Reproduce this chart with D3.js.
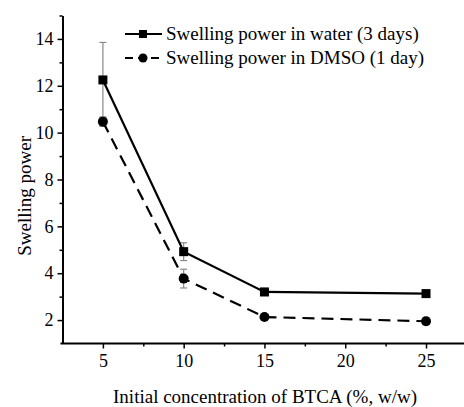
<!DOCTYPE html>
<html>
<head>
<meta charset="utf-8">
<script src="https://cdn.jsdelivr.net/npm/d3@7"></script>
<style>
  body { margin: 0; background: #fff; }
  svg text { font-family: "Liberation Serif", "Times New Roman", "DejaVu Serif", serif; }
</style>
</head>
<body>
<div id="chart"></div>
<script>
// data
const concentrations = [5, 10, 15, 25];
const waterValues = [12.25, 4.92, 3.2, 3.13];
const waterErrors = [1.6, 0.38, 0.15, 0.06];
const dmsoValues = [10.47, 3.77, 2.13, 1.95];
const dmsoErrors = [0.2, 0.4, 0.06, 0.15];
const xTicks = [5, 10, 15, 20, 25];
const yTicks = [2, 4, 6, 8, 10, 12, 14];
const legendLabels = ["Swelling power in water (3 days)", "Swelling power in DMSO (1 day)"];

const W = 464, H = 407;

const svg = d3.select("#chart")
  .append("svg")
  .attr("width", W)
  .attr("height", H);

const x = d3.scaleLinear()
  .domain([2.5, 27.5])
  .range([62.5, 466.4]);

const y = d3.scaleLinear()
  .domain([1, 15])
  .range([343.5, 15.5]);

// axes
const xAxis = svg.append("g")
  .attr("transform", `translate(0,${y(1)})`)
  .call(d3.axisBottom(x).tickValues(xTicks).tickSize(5).tickPadding(6).tickFormat(d3.format("d")));
svg.append("g")
  .attr("transform", `translate(0,${y(1)})`)
  .call(d3.axisBottom(x).tickValues([7.5, 12.5, 17.5, 22.5]).tickSize(3).tickFormat(""))
  .select(".domain").remove();

const yAxis = svg.append("g")
  .attr("transform", `translate(${x(2.5)},0)`)
  .call(d3.axisLeft(y).tickValues(yTicks).tickSize(5).tickPadding(4).tickSizeOuter(0));
svg.append("g")
  .attr("transform", `translate(${x(2.5)},0)`)
  .call(d3.axisLeft(y).tickValues([3, 5, 7, 9, 11, 13, 15]).tickSize(3).tickFormat(""))
  .select(".domain").remove();

svg.selectAll(".domain").attr("stroke", "#000").attr("stroke-width", 2);
svg.selectAll(".tick line").attr("stroke", "#000").attr("stroke-width", 1.5);
svg.selectAll(".tick text").attr("font-size", 18).attr("fill", "#000");
xAxis.select(".domain").attr("d", `M${x(2.5) - 2},0H${x(27.5)}`);

// axis titles
svg.append("text")
  .attr("x", 265)
  .attr("y", 403)
  .attr("text-anchor", "middle")
  .attr("font-size", 19)
  .text("Initial concentration of BTCA (%, w/w)");

svg.append("text")
  .attr("transform", `translate(31,${y(7.3)}) rotate(-90)`)
  .attr("text-anchor", "middle")
  .attr("font-size", 19)
  .text("Swelling power");

const series = [
  {values: waterValues, errors: waterErrors, dash: null, shape: "square"},
  {values: dmsoValues, errors: dmsoErrors, dash: "12,7", shape: "circle"}
];

const line = d3.line()
  .x(d => x(d[0]))
  .y(d => y(d[1]));

series.forEach(s => {
  const pts = concentrations.map((c, i) => [c, s.values[i], s.errors[i]]);

  // error bars
  const eb = svg.append("g").attr("stroke", "#8a8a8a").attr("stroke-width", 1.2);
  pts.forEach(p => {
    eb.append("line").attr("x1", x(p[0])).attr("x2", x(p[0]))
      .attr("y1", y(p[1] - p[2])).attr("y2", y(p[1] + p[2]));
    [p[1] - p[2], p[1] + p[2]].forEach(v => {
      eb.append("line").attr("x1", x(p[0]) - 3.5).attr("x2", x(p[0]) + 3.5)
        .attr("y1", y(v)).attr("y2", y(v));
    });
  });

  svg.append("path")
    .datum(pts)
    .attr("fill", "none")
    .attr("stroke", "#000")
    .attr("stroke-width", 2.2)
    .attr("stroke-dasharray", s.dash)
    .attr("d", line);

  if (s.shape === "square") {
    svg.selectAll(null).data(pts).join("rect")
      .attr("x", d => x(d[0]) - 4.5).attr("y", d => y(d[1]) - 4.5)
      .attr("width", 9).attr("height", 9).attr("fill", "#000");
  } else {
    svg.selectAll(null).data(pts).join("circle")
      .attr("cx", d => x(d[0])).attr("cy", d => y(d[1]))
      .attr("r", 5).attr("fill", "#000");
  }
});

// legend
const legend = svg.append("g");
series.forEach((s, i) => {
  const ly = 34 + i * 24;
  legend.append("line")
    .attr("x1", 125).attr("x2", 162).attr("y1", ly).attr("y2", ly)
    .attr("stroke", "#000").attr("stroke-width", 2.2)
    .attr("stroke-dasharray", s.dash ? "8,5" : null);
  if (s.shape === "square") {
    legend.append("rect").attr("x", 139).attr("y", ly - 4).attr("width", 8).attr("height", 8);
  } else {
    legend.append("circle").attr("cx", 143).attr("cy", ly).attr("r", 4.5);
  }
  legend.append("text")
    .attr("x", 166).attr("y", ly + 6)
    .attr("font-size", 19)
    .text(legendLabels[i]);
});
</script>
</body>
</html>
